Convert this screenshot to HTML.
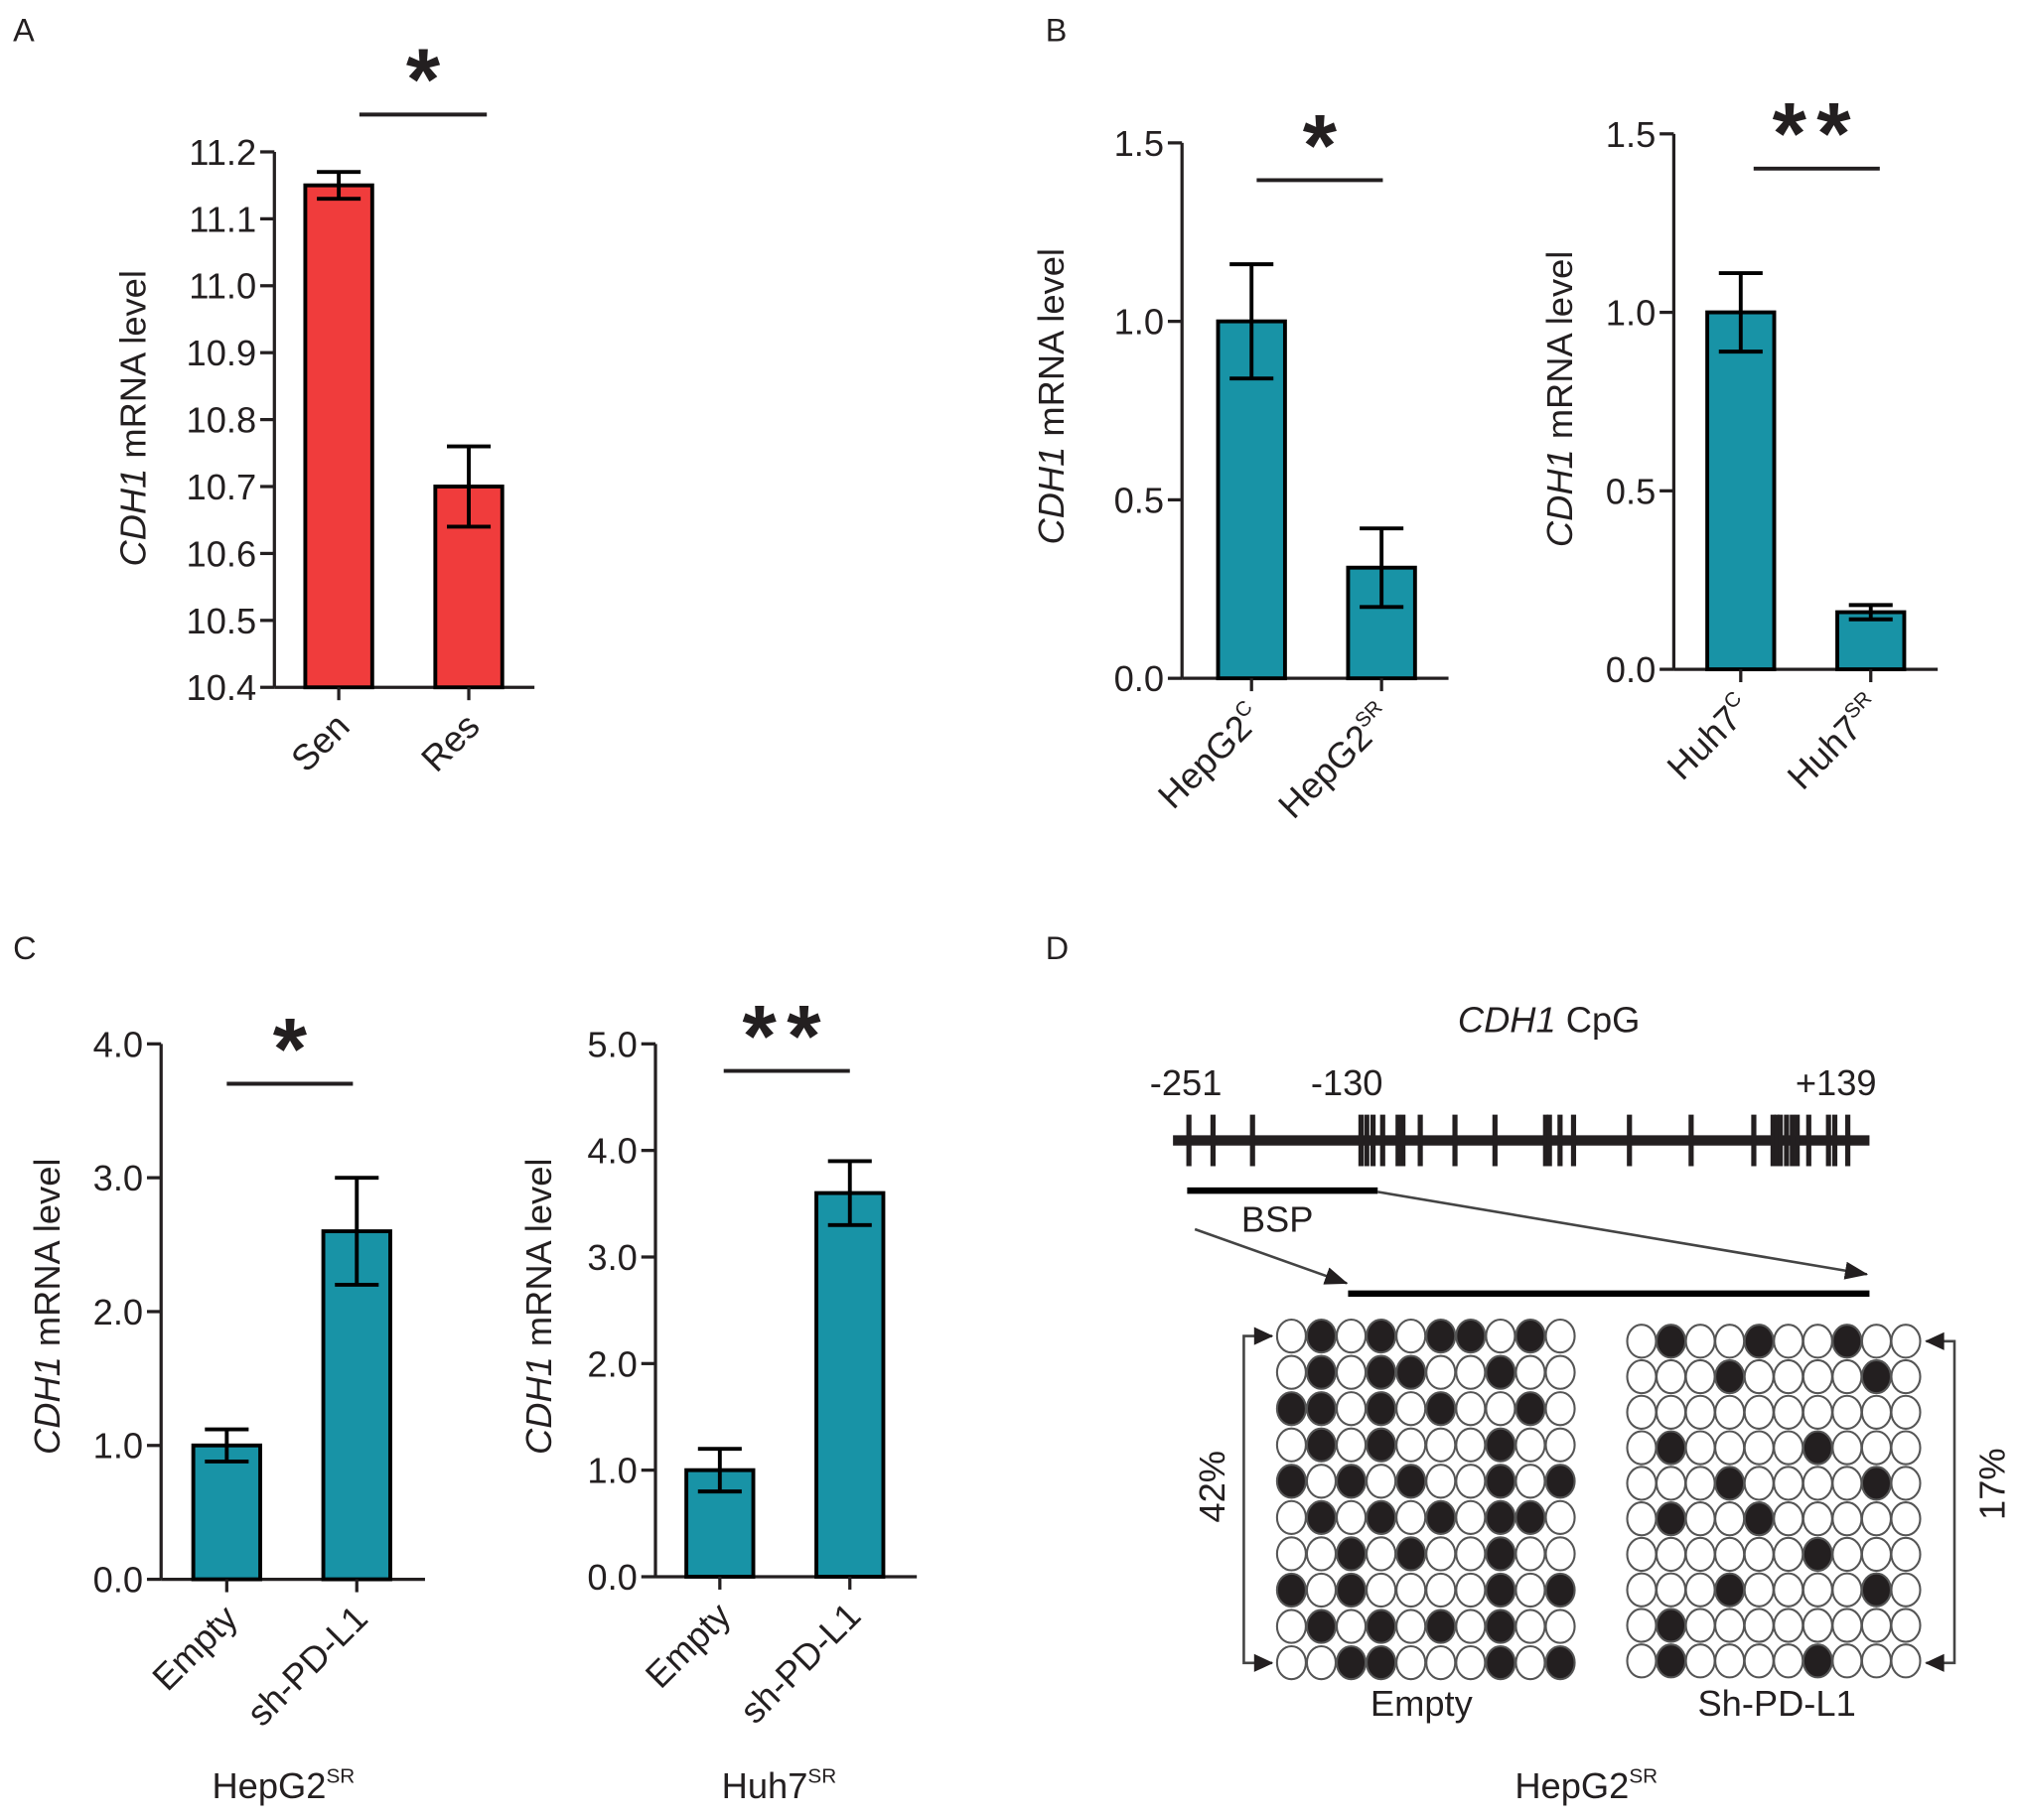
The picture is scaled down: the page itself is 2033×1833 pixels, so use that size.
<!DOCTYPE html>
<html><head><meta charset="utf-8"><style>
html,body{margin:0;padding:0;background:#fff;}
svg{display:block;font-family:"Liberation Sans",Arial,sans-serif;}
</style></head><body>
<svg id="fig" width="2033" height="1833" viewBox="0 0 1568 1414" xmlns="http://www.w3.org/2000/svg">
<rect width="1568" height="1414" fill="#fff"/>
<g font-size="25" fill="#231f20">
<text x="10" y="32">A</text>
<text x="812" y="32">B</text>
<text x="10" y="745">C</text>
<text x="812" y="745">D</text>
</g>
<g id="charts"></g>
<g id="panelD"></g>
</svg>
<script>
// ---- Chart data ----
const aCats = ["Sen","Res"];
const aVals = [11.15,10.70];
const aErr = [0.02,0.06];
const aTicks = ["10.4","10.5","10.6","10.7","10.8","10.9","11.0","11.1","11.2"];

const b1Cats = ["HepG2|C","HepG2|SR"];
const b1Vals = [1.0,0.31];
const b1Err = [0.16,0.11];
const b2Cats = ["Huh7|C","Huh7|SR"];
const b2Vals = [1.0,0.16];
const b2Err = [0.11,0.02];
const bTicks = ["0.0","0.5","1.0","1.5"];

const c1Cats = ["Empty","sh-PD-L1"];
const c1Vals = [1.0,2.6];
const c1Err = [0.12,0.4];
const c1Ticks = ["0.0","1.0","2.0","3.0","4.0"];
const c2Cats = ["Empty","sh-PD-L1"];
const c2Vals = [1.0,3.6];
const c2Err = [0.2,0.3];
const c2Ticks = ["0.0","1.0","2.0","3.0","4.0","5.0"];

const emptyRows = ["0101011010","0101100100","1101010010","0101000100","1010100101","0101010110","0010100100","1010000101","0101010100","0011000101"];
const shRows = ["0100100100","0001000010","0000000000","0100001000","0001000010","0100100000","0000001000","0001000010","0100000000","0100001000"];

const NS="http://www.w3.org/2000/svg";
const DARK="#231f20";
function mk(tag,attrs,parent,name){const e=document.createElementNS(NS,tag);for(const k in attrs)e.setAttribute(k,attrs[k]);


parent.appendChild(e);return e;}

function chart(o){
  const g=mk('g',{},document.getElementById('charts'),o.name);
  const vmin=parseFloat(o.ticks[0]),vmax=parseFloat(o.ticks[o.ticks.length-1]);
  const y=v=>o.y0+(v-vmin)/(vmax-vmin)*(o.y1-o.y0);
  mk('line',{x1:o.ax,y1:o.y0,x2:o.ax,y2:o.y1,stroke:DARK,'stroke-width':2.5},g,'y-axis');
  mk('line',{x1:o.ax,y1:o.y0,x2:o.axEnd,y2:o.y0,stroke:DARK,'stroke-width':2.5},g,'x-axis');
  o.ticks.forEach(t=>{const yy=y(parseFloat(t));
    mk('line',{x1:o.ax-11,y1:yy,x2:o.ax,y2:yy,stroke:DARK,'stroke-width':2.5},g,'y-tick');
    const tx=mk('text',{x:o.ax-14,y:yy+10,'text-anchor':'end','font-size':28,fill:DARK},g,'y-tick-label');tx.textContent=t;});
  o.vals.forEach((v,i)=>{const cx=o.cx[i];
    mk('rect',{x:cx-26,y:y(v),width:52,height:o.y0-y(v),fill:o.color,stroke:'#000','stroke-width':3},g,'bar-'+i);
    const eh=y(v+o.err[i]),el=y(v-o.err[i]);
    mk('line',{x1:cx,y1:eh,x2:cx,y2:el,stroke:'#000','stroke-width':3},g,'error-bar');
    mk('line',{x1:cx-17,y1:eh,x2:cx+17,y2:eh,stroke:'#000','stroke-width':3},g,'error-cap');
    mk('line',{x1:cx-17,y1:el,x2:cx+17,y2:el,stroke:'#000','stroke-width':3},g,'error-cap');
    mk('line',{x1:cx,y1:o.y0,x2:cx,y2:o.y0+10,stroke:DARK,'stroke-width':2.5},g,'x-tick');
    const parts=o.cats[i].split('|');
    const t=mk('text',{x:0,y:0,'text-anchor':'end','font-size':28,fill:DARK,transform:`translate(${cx+10},${o.y0+32}) rotate(-45)`},g,'x-tick-label');
    t.textContent=parts[0];
    if(parts[1]){const s=mk('tspan',{'font-size':16,dy:-12},t,'superscript');s.textContent=parts[1];}
  });
  const lab=mk('text',{x:0,y:0,'text-anchor':'middle','font-size':28,fill:DARK,transform:`translate(${o.lx},${o.ly}) rotate(-90)`},g,'y-axis-title');
  const it=mk('tspan',{'font-style':'italic'},lab,'gene-name');it.textContent='CDH1';
  const rest=mk('tspan',{},lab,'label-rest');rest.textContent=' mRNA level';
  mk('line',{x1:o.sig[0],y1:o.sig[2],x2:o.sig[1],y2:o.sig[2],stroke:DARK,'stroke-width':3},g,'significance-line');
  const st=mk('text',{x:(o.sig[0]+o.sig[1])/2,y:o.sig[2]-4,'text-anchor':'middle','font-size':68,'font-weight':'bold',fill:DARK,'letter-spacing':o.star.length>1?'8':'0'},g,'significance-stars');
  st.textContent=o.star;
  if(o.title){const tt=mk('text',{x:o.title[1],y:o.title[2],'text-anchor':'middle','font-size':28,fill:DARK},g,'chart-title');
    tt.textContent=o.title[0];const s=mk('tspan',{'font-size':16,dy:-12},tt,'superscript');s.textContent='SR';}
}
const RED="#f03c3c",TEAL="#1893a6";
chart({name:'chart-a',cats:aCats,vals:aVals,err:aErr,ticks:aTicks,ax:213,axEnd:415,y0:534,y1:118,cx:[263,364],color:RED,lx:113,ly:325,sig:[279,378,89],star:'*'});
chart({name:'chart-b-hepg2',cats:b1Cats,vals:b1Vals,err:b1Err,ticks:bTicks,ax:918,axEnd:1125,y0:527,y1:111,cx:[972,1073],color:TEAL,lx:826,ly:308,sig:[976,1074,140],star:'*'});
chart({name:'chart-b-huh7',cats:b2Cats,vals:b2Vals,err:b2Err,ticks:bTicks,ax:1300,axEnd:1505,y0:520,y1:104,cx:[1352,1453],color:TEAL,lx:1221,ly:310,sig:[1362,1460,131],star:'**'});
chart({name:'chart-c-hepg2',cats:c1Cats,vals:c1Vals,err:c1Err,ticks:c1Ticks,ax:125,axEnd:330,y0:1227,y1:811,cx:[176,277],color:TEAL,lx:46,ly:1015,sig:[176,274,842],star:'*',title:['HepG2',220,1397]});
chart({name:'chart-c-huh7',cats:c2Cats,vals:c2Vals,err:c2Err,ticks:c2Ticks,ax:509,axEnd:712,y0:1225,y1:811,cx:[559,660],color:TEAL,lx:428,ly:1015,sig:[562,660,832],star:'**',title:['Huh7',605,1397]});

// ---- Panel D ----
const D=document.getElementById('panelD');
function txt(s,x,y,size,name,anchor,extra){const t=mk('text',Object.assign({x:x,y:y,'font-size':size,fill:DARK,'text-anchor':anchor||'middle'},extra||{}),D,name);t.textContent=s;return t;}
const tt=mk('text',{x:1203,y:802,'font-size':28,fill:DARK,'text-anchor':'middle'},D,'cpg-title');
const ti=mk('tspan',{'font-style':'italic'},tt,'gene-name');ti.textContent='CDH1';
const tr=mk('tspan',{},tt,'title-rest');tr.textContent=' CpG';
txt('-251',921,851,28,'position-label-start');
txt('-130',1046,851,28,'position-label-mid');
txt('+139',1426,851,28,'position-label-end');
mk('line',{x1:911,y1:886,x2:1452,y2:886,stroke:DARK,'stroke-width':8},D,'cpg-line');
const cpgZ=[78,128,210,435,447,460,480,512,522,558,630,713,818,826,848,876,992,1120,1250,1290,1298,1305,1318,1330,1340,1364,1405,1418,1445];
cpgZ.forEach(z=>{const x=911+(z-45)/1445*541;mk('line',{x1:x,y1:866,x2:x,y2:906,stroke:DARK,'stroke-width':4},D,'cpg-site');});
mk('line',{x1:922,y1:925,x2:1070,y2:925,stroke:'#000','stroke-width':5},D,'bsp-bar');
txt('BSP',992,957,28,'bsp-label');
const defs=mk('defs',{},D,'defs');
const m=mk('marker',{id:'ah',markerWidth:18,markerHeight:14,refX:17,refY:7,orient:'auto',markerUnits:'userSpaceOnUse'},defs,'arrowhead');
mk('path',{d:'M0,0 L18,7 L0,14 Z',fill:DARK},m,'arrowhead-shape');
mk('line',{x1:1070,y1:926,x2:1450,y2:990,stroke:'#444','stroke-width':2,'marker-end':'url(#ah)'},D,'zoom-arrow-right');
mk('line',{x1:928,y1:955,x2:1046,y2:997,stroke:'#444','stroke-width':2,'marker-end':'url(#ah)'},D,'zoom-arrow-left');
mk('line',{x1:1047,y1:1005,x2:1452,y2:1005,stroke:'#000','stroke-width':5},D,'amplicon-bar');
function grid(rows,x0,dx,y0,dy,name){const g=mk('g',{},D,name);
  rows.forEach((r,ri)=>{for(let ci=0;ci<r.length;ci++){
    mk('ellipse',{cx:x0+ci*dx,cy:y0+ri*dy,rx:11.2,ry:12.8,fill:r[ci]==='1'?DARK:'#fff',stroke:'#555','stroke-width':1.6},g,r[ci]==='1'?'methylated-cpg':'unmethylated-cpg');}});}
grid(emptyRows,1003,23.2,1038,28.2,'empty-grid');
grid(shRows,1275,22.8,1042,27.6,'shpdl1-grid');
mk('path',{d:'M988,1038 L966,1038 L966,1292 L988,1292',fill:'none',stroke:'#444','stroke-width':2},D,'bracket-left');
mk('path',{d:'M974,1031 L989,1038 L974,1045 Z M974,1285 L989,1292 L974,1299 Z',fill:DARK},D,'bracket-left-arrows');
mk('path',{d:'M1496,1042 L1518,1042 L1518,1292 L1496,1292',fill:'none',stroke:'#444','stroke-width':2},D,'bracket-right');
mk('path',{d:'M1510,1035 L1495,1042 L1510,1049 Z M1510,1285 L1495,1292 L1510,1299 Z',fill:DARK},D,'bracket-right-arrows');
txt('42%',0,0,28,'percent-empty','middle',{transform:'translate(951,1155) rotate(-90)'});
txt('17%',0,0,28,'percent-shpdl1','middle',{transform:'translate(1557,1153) rotate(-90)'});
txt('Empty',1104,1333,28,'group-label-empty');
txt('Sh-PD-L1',1380,1333,28,'group-label-shpdl1');
const ht=txt('HepG2',1232,1397,28,'cell-line-label');
const hs=mk('tspan',{'font-size':16,dy:-12},ht,'superscript');hs.textContent='SR';
</script>
</body></html>
